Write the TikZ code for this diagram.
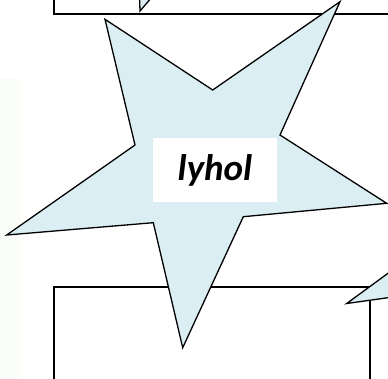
\documentclass[tikz,border=0pt]{standalone}
\usepackage{fontspec}
\newfontfamily\calib{Carlito}
\definecolor{starfill}{HTML}{DAEEF3}
\definecolor{faint}{HTML}{FBFDF8}
\tikzset{
  starshape/.style={draw=black, line width=1.3pt, fill=starfill, line join=miter},
  boxshape/.style={draw=black, line width=2pt, fill=white},
  labelbox/.style={fill=white, inner sep=0pt, minimum width=124pt, minimum height=64pt, font=\calib\bfseries\itshape\fontsize{37}{42}\selectfont}
}
\begin{document}
\begin{tikzpicture}[x=1pt,y=-1pt]
\useasboundingbox (0,0) rectangle (388,378);
\clip (0,0) rectangle (388,378);
\fill[faint] (0,78) rectangle (20,378);
% boxes
\draw[boxshape] (54,-10) rectangle (400,14);
\draw[boxshape] (54,287) rectangle (370,400);
% partial stars
\draw[starshape] (139.3,-10) -- (140,11) -- (158,-10);
\draw[starshape] (400,264.5) -- (346.7,303.5) -- (400,296);
% main star
\draw[starshape] (105,19.3) -- (212.7,90) -- (340,1.7) -- (280,135) -- (386.7,203.3)
  -- (243.3,216.7) -- (182.7,347.7) -- (153.3,222.7) -- (6.7,235) -- (135,145) -- cycle;
\node[labelbox] (lbl) at (215,170) {lyhol};
\end{tikzpicture}
\end{document}
